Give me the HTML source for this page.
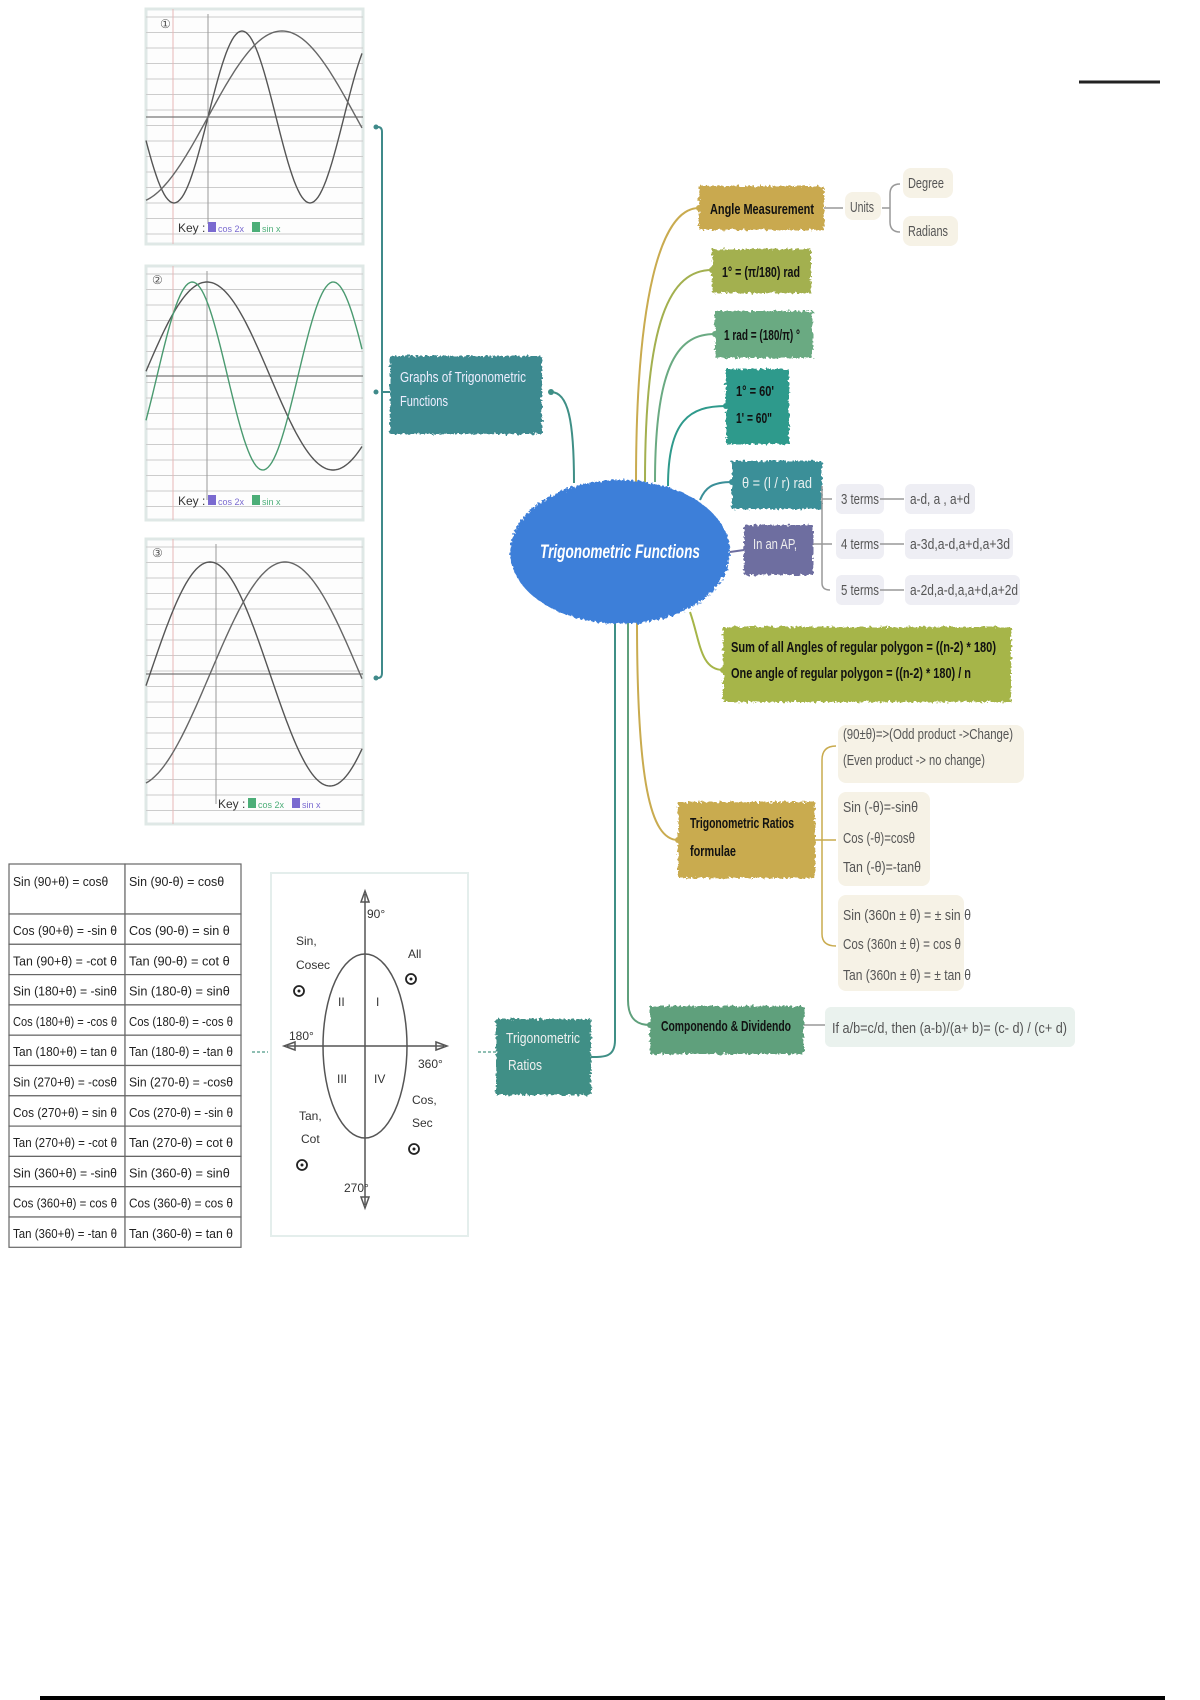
<!DOCTYPE html>
<html><head><meta charset="utf-8"><style>
html,body{margin:0;padding:0;background:#fff;}
svg{display:block;}
text{font-family:"Liberation Sans Narrow","Liberation Sans",sans-serif;}
</style></head><body>
<svg id="s" width="1200" height="1700" viewBox="0 0 1200 1700" xmlns="http://www.w3.org/2000/svg">
<defs>
<filter id="rough" x="-5%" y="-10%" width="110%" height="120%"><feTurbulence type="fractalNoise" baseFrequency="0.35" numOctaves="2" result="n"/><feDisplacementMap in="SourceGraphic" in2="n" scale="6"/></filter>
</defs>
<rect width="1200" height="1700" fill="#fff"/>
<line x1="1079" y1="82" x2="1160" y2="82" stroke="#222" stroke-width="3"/>
<line x1="40" y1="1698" x2="1165" y2="1698" stroke="#000" stroke-width="4"/>

<g id="graphs"></g>

<path d="M378,127 Q382,127 382,132 L382,673 Q382,678 378,678" fill="none" stroke="#3f8a8a" stroke-width="2"/>
<line x1="382" y1="392" x2="390" y2="392" stroke="#3f8a8a" stroke-width="2"/>
<circle cx="376" cy="127" r="2.5" fill="#3f8a8a"/><circle cx="376" cy="392" r="2.5" fill="#3f8a8a"/><circle cx="376" cy="678" r="2.5" fill="#3f8a8a"/>

<g fill="none" stroke-width="2">
<path d="M636,482 C636,300 660,208 699,208" stroke="#c9ab4f"/>
<path d="M645,482 C645,320 670,270 712,270" stroke="#a3b04f"/>
<path d="M655,482 C655,360 680,334 715,334" stroke="#6aaa82"/>
<path d="M668,486 C668,420 690,406 726,406" stroke="#2f9a8c"/>
<path d="M700,500 C705,488 712,482 732,482" stroke="#3a8f98"/>
<path d="M730,552 L744,550" stroke="#6e6ea0"/>
<path d="M690,612 C700,640 700,670 723,670" stroke="#a6b548"/>
<path d="M637,620 C637,780 650,840 678,840" stroke="#c9ab4f"/>
<path d="M628,622 L628,1000 C628,1020 638,1025 650,1025" stroke="#5fa07c"/>
<path d="M615,622 L615,1040 C615,1057 605,1057 591,1057" stroke="#3f8f86"/>
<path d="M574,483 C574,420 568,392 551,392" stroke="#3f8f86"/>
</g>
<g><circle cx="699" cy="208" r="3" fill="#c9ab4f"/><circle cx="712" cy="270" r="3" fill="#a3b04f"/><circle cx="715" cy="334" r="3" fill="#6aaa82"/><circle cx="726" cy="406" r="3" fill="#2f9a8c"/><circle cx="732" cy="482" r="3" fill="#3a8f98"/><circle cx="723" cy="670" r="3" fill="#a6b548"/><circle cx="678" cy="840" r="3" fill="#c9ab4f"/><circle cx="650" cy="1025" r="3" fill="#5fa07c"/><circle cx="551" cy="392" r="3" fill="#3f8f86"/></g>

<ellipse cx="620" cy="552" rx="110" ry="72" fill="#3e7fd9" filter="url(#rough)"/>
<text x="540" y="558" fill="#fff" font-size="19" font-weight="bold" font-style="italic" textLength="160" lengthAdjust="spacingAndGlyphs">Trigonometric Functions</text>

<g filter="url(#rough)">
<rect x="699" y="186" width="125" height="44" fill="#c9a94f"/>
<rect x="712" y="249" width="99" height="44" fill="#a3b04f"/>
<rect x="715" y="311" width="98" height="47" fill="#6aaa82"/>
<rect x="726" y="369" width="63" height="75" fill="#2f9a8c"/>
<rect x="732" y="461" width="90" height="48" fill="#3a8f98"/>
<rect x="744" y="525" width="69" height="50" fill="#6e6ea0"/>
<rect x="723" y="627" width="288" height="75" fill="#a6b548"/>
<rect x="678" y="802" width="137" height="76" fill="#c9ab4f"/>
<rect x="650" y="1006" width="154" height="48" fill="#5fa07c"/>
<rect x="496" y="1019" width="95" height="76" fill="#3f8f86"/>
<rect x="390" y="356" width="152" height="78" fill="#3e8a90"/>
</g>
<g fill="#f6f2e6">
<rect x="845" y="192" width="36" height="28" rx="8"/>
<rect x="903" y="168" width="50" height="30" rx="8"/>
<rect x="903" y="216" width="55" height="30" rx="8"/>
<rect x="838" y="725" width="186" height="58" rx="8"/>
<rect x="838" y="792" width="92" height="94" rx="8"/>
<rect x="838" y="895" width="126" height="96" rx="8"/>
</g>
<g fill="#eeeef4">
<rect x="836" y="484" width="48" height="30" rx="6"/><rect x="905" y="484" width="70" height="30" rx="6"/>
<rect x="836" y="529" width="48" height="30" rx="6"/><rect x="905" y="529" width="108" height="30" rx="6"/>
<rect x="836" y="575" width="48" height="30" rx="6"/><rect x="905" y="575" width="115" height="30" rx="6"/>
</g>
<rect x="825" y="1007" width="250" height="40" rx="6" fill="#eaf2ee"/>

<g font-size="15" fill="#111" lengthAdjust="spacingAndGlyphs">
<text x="710" y="214" font-weight="bold" textLength="104" lengthAdjust="spacingAndGlyphs">Angle Measurement</text>
<text x="722" y="277" font-weight="bold" textLength="78" lengthAdjust="spacingAndGlyphs">1° = (π/180) rad</text>
<text x="724" y="340" font-weight="bold" textLength="76" lengthAdjust="spacingAndGlyphs">1 rad = (180/π) °</text>
<text x="736" y="396" font-weight="bold" textLength="38" lengthAdjust="spacingAndGlyphs">1° = 60'</text>
<text x="736" y="423" font-weight="bold" textLength="36" lengthAdjust="spacingAndGlyphs">1' = 60"</text>
<text x="742" y="488" fill="#e8f0f0" textLength="70" lengthAdjust="spacingAndGlyphs">θ = (l / r) rad</text>
<text x="753" y="549" fill="#eee" textLength="44" lengthAdjust="spacingAndGlyphs">In an AP,</text>
<text x="731" y="652" font-weight="bold" textLength="265" lengthAdjust="spacingAndGlyphs">Sum of all Angles of regular polygon = ((n-2) * 180)</text>
<text x="731" y="678" font-weight="bold" textLength="240" lengthAdjust="spacingAndGlyphs">One angle of regular polygon = ((n-2) * 180) / n</text>
<text x="690" y="828" font-weight="bold" textLength="104" lengthAdjust="spacingAndGlyphs">Trigonometric Ratios</text>
<text x="690" y="856" font-weight="bold" textLength="46" lengthAdjust="spacingAndGlyphs">formulae</text>
<text x="661" y="1031" font-weight="bold" textLength="130" lengthAdjust="spacingAndGlyphs">Componendo &amp; Dividendo</text>
<text x="506" y="1043" fill="#f0f0f0" textLength="74" lengthAdjust="spacingAndGlyphs">Trigonometric</text>
<text x="508" y="1070" fill="#f0f0f0" textLength="34" lengthAdjust="spacingAndGlyphs">Ratios</text>
<text x="400" y="382" fill="#eef" textLength="126" lengthAdjust="spacingAndGlyphs">Graphs of Trigonometric</text>
<text x="400" y="406" fill="#eef" textLength="48" lengthAdjust="spacingAndGlyphs">Functions</text>
</g>
<g font-size="15" fill="#555">
<text x="850" y="212" textLength="24" lengthAdjust="spacingAndGlyphs">Units</text>
<text x="908" y="188" textLength="36" lengthAdjust="spacingAndGlyphs">Degree</text>
<text x="908" y="236" textLength="40" lengthAdjust="spacingAndGlyphs">Radians</text>
<text x="841" y="504" textLength="38" lengthAdjust="spacingAndGlyphs">3 terms</text><text x="910" y="504" textLength="60" lengthAdjust="spacingAndGlyphs">a-d, a , a+d</text>
<text x="841" y="549" textLength="38" lengthAdjust="spacingAndGlyphs">4 terms</text><text x="910" y="549" textLength="100" lengthAdjust="spacingAndGlyphs">a-3d,a-d,a+d,a+3d</text>
<text x="841" y="595" textLength="38" lengthAdjust="spacingAndGlyphs">5 terms</text><text x="910" y="595" textLength="108" lengthAdjust="spacingAndGlyphs">a-2d,a-d,a,a+d,a+2d</text>
<text x="843" y="739" textLength="170" lengthAdjust="spacingAndGlyphs">(90±θ)=&gt;(Odd product -&gt;Change)</text>
<text x="843" y="765" textLength="142" lengthAdjust="spacingAndGlyphs">(Even product -&gt; no change)</text>
<text x="843" y="812" textLength="75" lengthAdjust="spacingAndGlyphs">Sin (-θ)=-sinθ</text>
<text x="843" y="843" textLength="72" lengthAdjust="spacingAndGlyphs">Cos (-θ)=cosθ</text>
<text x="843" y="872" textLength="78" lengthAdjust="spacingAndGlyphs">Tan (-θ)=-tanθ</text>
<text x="843" y="920" textLength="128" lengthAdjust="spacingAndGlyphs">Sin (360n ± θ) = ± sin θ</text>
<text x="843" y="949" textLength="118" lengthAdjust="spacingAndGlyphs">Cos (360n ± θ) = cos θ</text>
<text x="843" y="980" textLength="128" lengthAdjust="spacingAndGlyphs">Tan (360n ± θ) = ± tan θ</text>
<text x="832" y="1033" textLength="235" lengthAdjust="spacingAndGlyphs">If a/b=c/d, then (a-b)/(a+ b)= (c- d) / (c+ d)</text>
</g>
<g fill="none" stroke="#999" stroke-width="1.5">
<line x1="824" y1="208" x2="843" y2="208"/>
<path d="M882,208 L890,208 M900,184 Q890,184 890,194 L890,222 Q890,232 900,232"/>
<path d="M822,486 L822,583 Q822,590 830,590 M813,544 L832,544 M822,499 L832,499"/>
<line x1="880" y1="499" x2="904" y2="499"/><line x1="880" y1="544" x2="904" y2="544"/><line x1="880" y1="590" x2="904" y2="590"/>
<path d="M836,746 Q822,746 822,760 L822,934 Q822,946 836,946 M815,840 L836,840" stroke="#c9ab4f"/>
<line x1="804" y1="1025" x2="825" y2="1025"/>
<line x1="478" y1="1052" x2="496" y2="1052" stroke="#6aaa9a" stroke-dasharray="3,2"/>
<line x1="252" y1="1052" x2="268" y2="1052" stroke="#6aaa9a" stroke-dasharray="3,2"/>
</g>

<rect x="271" y="873" width="197" height="363" fill="#fff" stroke="#e4eeec" stroke-width="2"/>
<g stroke="#555" fill="none" stroke-width="1.5">
<line x1="365" y1="894" x2="365" y2="1205"/>
<line x1="287" y1="1046" x2="444" y2="1046"/>
<ellipse cx="365" cy="1046" rx="42" ry="92"/>
<path d="M361,902 L365,891 L369,902 Z M361,1197 L365,1208 L369,1197 Z M295,1042 L284,1046 L295,1050 Z M436,1042 L447,1046 L436,1050 Z"/>
</g>
<g font-size="12" fill="#333">
<text x="367" y="918">90°</text><text x="289" y="1040">180°</text><text x="418" y="1068">360°</text><text x="344" y="1192">270°</text>
<text x="296" y="945">Sin,</text><text x="296" y="969">Cosec</text>
<text x="408" y="958">All</text>
<text x="299" y="1120">Tan,</text><text x="301" y="1143">Cot</text>
<text x="412" y="1104">Cos,</text><text x="412" y="1127">Sec</text>
<text x="338" y="1006" font-family="Liberation Serif">II</text><text x="376" y="1006" font-family="Liberation Serif">I</text>
<text x="337" y="1083" font-family="Liberation Serif">III</text><text x="374" y="1083" font-family="Liberation Serif">IV</text>
</g>
<g fill="none" stroke="#222" stroke-width="1.8"><circle cx="299" cy="991" r="5"/><circle cx="411" cy="979" r="5"/><circle cx="302" cy="1165" r="5"/><circle cx="414" cy="1149" r="5"/></g>
<g fill="#222"><circle cx="299" cy="991" r="1.5"/><circle cx="411" cy="979" r="1.5"/><circle cx="302" cy="1165" r="1.5"/><circle cx="414" cy="1149" r="1.5"/></g>

<g id="table"></g>
</svg>
<script>
var NS="http://www.w3.org/2000/svg";
function el(p,t,a,txt){var e=document.createElementNS(NS,t);for(var k in a)e.setAttribute(k,a[k]);if(txt!==undefined)e.textContent=txt;p.appendChild(e);return e;}
var g=document.getElementById("graphs");
function panel(y0,y1,ax,yaxX,curves){
  el(g,"rect",{x:146,y:y0,width:217,height:y1-y0,fill:"#fdfdfd",stroke:"#dfe8e6","stroke-width":3});
  for(var y=y0+8;y<y1;y+=15.5)el(g,"line",{x1:146,y1:y,x2:363,y2:y,stroke:"#ccc","stroke-width":1});
  el(g,"line",{x1:173,y1:y0,x2:173,y2:y1,stroke:"#e6b8b8","stroke-width":1});
  el(g,"line",{x1:146,y1:ax,x2:363,y2:ax,stroke:"#777","stroke-width":1.2});
  el(g,"line",{x1:yaxX,y1:y0+5,x2:yaxX,y2:y1-20,stroke:"#999","stroke-width":1});
  curves.forEach(function(c){var d="";for(var x=146;x<=363;x+=2){var y=ax-c.A*Math.sin((x-c.x0)*2*Math.PI/c.P);d+=(x==146?"M":"L")+x+","+y.toFixed(1);}el(g,"path",{d:d,fill:"none",stroke:c.col,"stroke-width":1.4});});
}
panel(9,244,117,208,[{A:86,x0:208,P:136,col:"#555"},{A:86,x0:208,P:296,col:"#666"}]);
panel(266,520,376,207,[{A:94,x0:207-63,P:252,col:"#555"},{A:94,x0:192-35,P:141,col:"#4a9a70"}]);
panel(539,824,674,216,[{A:112,x0:210-60,P:240,col:"#555"},{A:112,x0:285-75,P:300,col:"#666"}]);
el(g,"text",{x:160,y:28,"font-size":12,fill:"#555"},"①");el(g,"text",{x:152,y:284,"font-size":12,fill:"#555"},"②");el(g,"text",{x:152,y:557,"font-size":12,fill:"#555"},"③");
[[178,232,"#7a6ad0","#4cae78"],[178,505,"#7a6ad0","#4cae78"],[218,808,"#4cae78","#7a6ad0"]].forEach(function(k){
 el(g,"text",{x:k[0],y:k[1],"font-size":12,fill:"#333"},"Key :");
 el(g,"rect",{x:k[0]+30,y:k[1]-10,width:8,height:10,fill:k[2]});el(g,"text",{x:k[0]+40,y:k[1],"font-size":9,fill:k[2]},"cos 2x");
 el(g,"rect",{x:k[0]+74,y:k[1]-10,width:8,height:10,fill:k[3]});el(g,"text",{x:k[0]+84,y:k[1],"font-size":9,fill:k[3]},"sin x");
});
var t=document.getElementById("table");
var rows=[["Sin (90+θ) = cosθ","Sin (90-θ) = cosθ"],["Cos (90+θ) = -sin θ","Cos (90-θ) = sin θ"],["Tan (90+θ) = -cot θ","Tan (90-θ) = cot θ"],["Sin (180+θ) = -sinθ","Sin (180-θ) = sinθ"],["Cos (180+θ) = -cos θ","Cos (180-θ) = -cos θ"],["Tan (180+θ) = tan θ","Tan (180-θ) = -tan θ"],["Sin (270+θ) = -cosθ","Sin (270-θ) = -cosθ"],["Cos (270+θ) = sin θ","Cos (270-θ) = -sin θ"],["Tan (270+θ) = -cot θ","Tan (270-θ) = cot θ"],["Sin (360+θ) = -sinθ","Sin (360-θ) = sinθ"],["Cos (360+θ) = cos θ","Cos (360-θ) = cos θ"],["Tan (360+θ) = -tan θ","Tan (360-θ) = tan θ"]];
var y=864;
rows.forEach(function(r,i){var h=i==0?50:30.3;
 el(t,"rect",{x:9,y:y,width:116,height:h,fill:"#fff",stroke:"#666","stroke-width":1.2});
 el(t,"rect",{x:125,y:y,width:116,height:h,fill:"#fff",stroke:"#666","stroke-width":1.2});
 var ty=i==0?y+22:y+21;
 var w0=Math.min(104,r[0].length*5.6), w1=Math.min(104,r[1].length*5.6);
 el(t,"text",{x:13,y:ty,"font-size":13,fill:"#222",textLength:w0,lengthAdjust:"spacingAndGlyphs"},r[0]);
 el(t,"text",{x:129,y:ty,"font-size":13,fill:"#222",textLength:w1,lengthAdjust:"spacingAndGlyphs"},r[1]);
 y+=h;});
</script>
</body></html>
